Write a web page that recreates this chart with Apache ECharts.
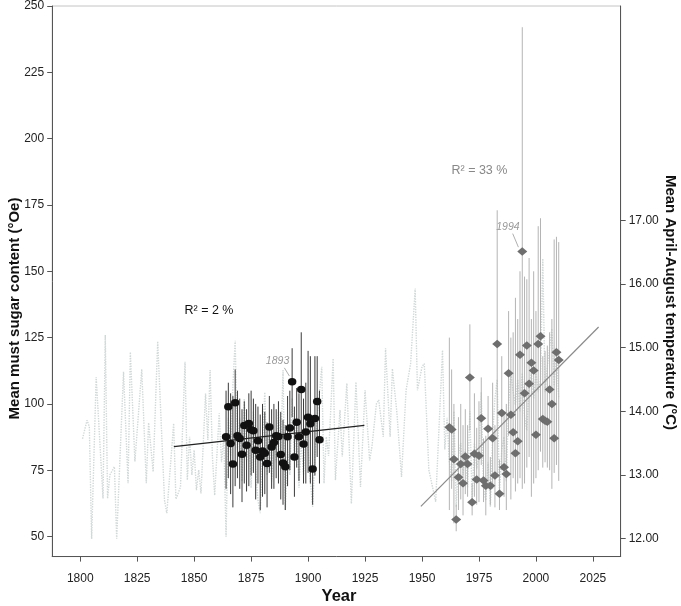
<!DOCTYPE html>
<html>
<head>
<meta charset="utf-8">
<script src="https://cdn.jsdelivr.net/npm/echarts@6/dist/echarts.min.js"></script>
<style>
html,body{margin:0;padding:0;background:#fff;}
#chart{width:681px;height:606px;}
</style>
</head>
<body>
<div id="chart"></div>
<script>
// ---- Data ----
// Historical must sugar (°Oe): mean, low, high
const histYears = [1864,1865,1866,1867,1868,1869,1870,1871,1872,1873,1874,1875,1876,1877,1878,1879,1880,1881,1882,1883,1884,1885,1886,1887,1888,1889,1890,1891,1892,1893,1894,1895,1896,1897,1898,1899,1900,1901,1902,1903,1904,1905];
const histMean = [87.6,98.9,85.1,77.4,100.4,88.0,87.0,81.0,91.9,84.4,92.6,90.3,89.9,82.5,86.1,80.0,82.3,81.4,77.5,91.3,83.8,85.5,88.0,87.7,80.9,77.7,76.3,87.6,90.9,108.4,80.0,93.1,87.6,105.4,84.9,89.4,95.0,92.5,75.5,94.5,100.9,86.5];
const histLow  = [68,72,66,61,69,72,68,63,70,67,69,73,74,64,70,60,65,66,61,74,68,68,72,70,64,62,60,69,75,95,65,76,71,87,70,70,74,70,62,73,80,70];
const histHigh = [105,108,104,103,113,105,102,98,101,98,104,105,102,100,99,96,100,97,93,103,98,100,98,101,97,94,92,103,105,121,99,106,104,127,102,108,120,118,94,118,118,105];

// Modern must sugar (°Oe): mean, low, high
const modYears = [1962,1963,1964,1965,1966,1967,1968,1969,1970,1971,1972,1973,1974,1975,1976,1977,1978,1979,1980,1981,1982,1983,1984,1985,1986,1987,1988,1989,1990,1991,1992,1993,1994,1995,1996,1997,1998,1999,2000,2001,2002,2003,2004,2005,2006,2007,2008,2009,2010];
const modMean = [91.2,90.4,79.1,56.4,72.4,77.4,70.1,80.2,77.4,110.0,62.9,81.2,71.5,80.5,94.6,71.1,69.2,90.6,69.2,87.1,73.0,122.6,66.1,96.6,76.1,73.6,111.6,95.9,89.3,81.4,85.9,118.5,157.5,104.0,122.0,107.6,115.5,112.6,88.4,122.6,125.5,94.3,93.7,93.3,105.4,100.0,87.1,119.5,116.6];
const modLow  = [60,68,55,52,60,64,58,66,65,90,58,65,62,63,77,63,58,70,62,68,61,73,60,75,65,60,88,64,72,67,70,72,68,70,76,80,65,70,72,75,82,76,78,76,75,68,74,77,71];
const modHigh = [125,113,100,62,95,100,92,98,92,130,70,104,91,101,110,87,88,103,80,108,92,173,79,118,97,100,135,125,127,140,132,150,242,148,147,155,132,150,135,167,170,118,120,122,127,132,162,163,161];

// April-August temperature (°C), turning points of the annual series
const tempYears = [1801,1803,1804,1805,1807,1810,1811,1812,1813,1815,1816,1819,1821,1822,1824,1827,1829,1830,1832,1834,1837,1838,1841,1842,1844,1846,1847,1848,1849,1850,1851,1852,1853,1855,1856,1857,1858,1859,1861,1862,1863,1864,1865,1866,1867,1868,1869,1870,1871,1872,1873,1874,1875,1876,1877,1878,1879,1880,1881,1882,1883,1884,1885,1886,1887,1888,1889,1890,1891,1892,1893,1894,1895,1896,1897,1898,1899,1900,1901,1902,1903,1904,1906,1907,1908,1909,1911,1912,1914,1915,1917,1919,1921,1923,1925,1927,1928,1930,1931,1933,1934,1936,1937,1939,1941,1943,1945,1947,1948,1950,1951,1953,1956,1959,1960,1961,1962,1963,1964,1965,1966,1967,1968,1969,1970,1971,1972,1973,1974,1975,1976,1977,1978,1979,1980,1981,1982,1983,1984,1985,1986,1987,1988,1989,1990,1991,1992,1993,1994,1995,1996,1997,1998,1999,2000,2001,2002,2003,2004,2005,2006,2007,2008,2009,2010];
const tempVals  = [13.57,13.86,13.76,12.00,14.54,12.63,15.20,12.63,13.00,13.13,12.00,14.62,12.87,14.93,13.21,14.66,12.87,13.82,13.05,15.10,12.60,12.40,13.81,12.62,12.81,14.78,12.92,13.60,13.00,13.39,12.76,13.08,12.71,14.28,13.55,14.65,13.30,12.68,13.97,13.20,13.60,12.03,13.90,13.30,14.40,15.11,13.40,13.90,12.90,14.20,13.20,13.70,12.80,14.00,13.10,12.60,12.40,13.50,14.30,13.00,13.80,12.90,13.60,13.20,14.00,13.30,14.65,12.45,13.40,13.00,14.20,13.30,13.90,12.80,13.50,13.00,13.80,13.40,12.90,12.50,13.30,13.90,14.70,12.87,13.60,13.30,14.83,12.92,14.02,13.29,14.44,12.55,14.46,12.81,14.33,13.23,13.44,14.12,14.18,13.60,14.99,13.60,14.67,13.97,12.97,14.33,14.75,15.93,14.33,14.70,14.75,13.08,12.58,14.96,13.40,13.90,13.20,12.90,14.00,12.50,13.30,13.50,13.00,13.40,12.80,14.00,12.60,13.50,13.10,13.30,14.30,12.80,12.60,13.20,12.50,13.60,14.20,14.50,12.70,13.40,13.60,12.90,14.10,14.60,14.30,14.10,14.50,14.00,14.60,13.90,13.70,14.40,14.60,14.20,14.60,14.30,14.50,16.40,14.30,14.70,15.00,15.30,14.40,15.00,14.20];

// Fitted trend lines (°Oe)
const histTrendX = [1841.1, 1924.7];
const histTrendY = [83.9, 91.9];
const modTrendX  = [1949.5, 2027.5];
const modTrendY  = [61.4, 129.0];

// Tick labels
const yearTicks = [1800,1825,1850,1875,1900,1925,1950,1975,2000,2025];
const sugarTicks = [50,75,100,125,150,175,200,225,250];
const tempTicks = [12,13,14,15,16,17];

// Annotations
const r2Texts = [
  {text:'R² = 2 %', x:1856.5, y:135.2, color:'#111'},
  {text:'R² = 33 %', x:1975.2, y:188.0, color:'#888'}
];
const yearNotes = [
  {text:'1893', x:1886.6, y:116.0, lx1:1889.6, ly1:113.6, lx2:1891.8, ly2:110.5},
  {text:'1994', x:1987.7, y:166.6, lx1:1989.8, ly1:164.2, lx2:1992.3, ly2:159.1}
];

// ---- Chart ----
const FONT = 'Arial, "Liberation Sans", Helvetica, sans-serif';
const chart = echarts.init(document.getElementById('chart'), null, {renderer:'canvas'});

function errBar(color){
  return function(params, api){
    const x = api.value(0);
    const p1 = api.coord([x, api.value(1)]);
    const p2 = api.coord([x, api.value(2)]);
    return {type:'line', shape:{x1:p1[0], y1:p1[1], x2:p2[0], y2:p2[1]}, style:{stroke:color, lineWidth:1}};
  };
}

const option = {
  animation:false,
  backgroundColor:'#fff',
  grid:{left:52.2, right:60.3, top:5.4, bottom:49.4, show:true, borderColor:'#c4c4c4', borderWidth:1, backgroundColor:'transparent'},
  xAxis:{
    type:'value', min:1787.7, max:2037.2,
    axisLine:{show:true, lineStyle:{color:'#555', width:1}},
    axisTick:{show:true, length:5, lineStyle:{color:'#555'}, customValues:yearTicks},
    axisLabel:{color:'#222', fontSize:12, fontFamily:FONT, margin:16, customValues:yearTicks, formatter:v=>String(v)},
    splitLine:{show:false}
  },
  yAxis:[
    {
      type:'value', min:42.45, max:250, position:'left',
      axisLine:{show:true, lineStyle:{color:'#555', width:1}},
      axisTick:{show:true, length:5, lineStyle:{color:'#555'}, customValues:sugarTicks},
      axisLabel:{color:'#222', fontSize:12, fontFamily:FONT, margin:8, customValues:sugarTicks, formatter:v=>String(v)},
      splitLine:{show:false}
    },
    {
      type:'value', min:11.718, max:20.368, position:'right',
      axisLine:{show:true, lineStyle:{color:'#555', width:1}},
      axisTick:{show:true, length:5, lineStyle:{color:'#555'}, customValues:tempTicks},
      axisLabel:{color:'#222', fontSize:12, fontFamily:FONT, margin:8, customValues:tempTicks, formatter:v=>v.toFixed(2)},
      splitLine:{show:false}
    }
  ],
  series:[
    {
      name:'Temperature', type:'line', yAxisIndex:1, symbol:'none', z:1,
      data: tempYears.map((y,i)=>[y, tempVals[i]]),
      lineStyle:{color:'#d2d7d7', width:1.4, type:[1.4,1.2]}
    },
    {
      name:'Historical range', type:'custom', z:2, renderItem:errBar('#3a3a3a'),
      data: histYears.map((y,i)=>[y, histLow[i], histHigh[i]])
    },
    {
      name:'Modern range', type:'custom', z:2, renderItem:errBar('#b4b4b4'),
      data: modYears.map((y,i)=>[y, modLow[i], modHigh[i]])
    },
    {
      name:'Historical trend', type:'line', symbol:'none', z:3,
      data: histTrendX.map((x,i)=>[x, histTrendY[i]]),
      lineStyle:{color:'#222', width:1.2}
    },
    {
      name:'Modern trend', type:'line', symbol:'none', z:3,
      data: modTrendX.map((x,i)=>[x, modTrendY[i]]),
      lineStyle:{color:'#8a8a8a', width:1.2}
    },
    {
      name:'Historical must sugar', type:'scatter', symbol:'circle', symbolSize:[8.5,7.5], z:4,
      data: histYears.map((y,i)=>[y, histMean[i]]),
      itemStyle:{color:'#111', opacity:1}
    },
    {
      name:'Modern must sugar', type:'scatter', symbol:'diamond', symbolSize:[10,8.5], z:4,
      data: modYears.map((y,i)=>[y, modMean[i]]),
      itemStyle:{color:'#6e6e6e', opacity:1}
    }
  ]
};
chart.setOption(option);

function px(x, y){ return chart.convertToPixel({xAxisIndex:0, yAxisIndex:0}, [x, y]); }
const g = [];
r2Texts.forEach(t=>{
  const p = px(t.x, t.y);
  g.push({type:'text', x:p[0], y:p[1], z:10, style:{text:t.text, fill:t.color, font:'12.5px '+FONT, textAlign:'center', textVerticalAlign:'middle'}});
});
yearNotes.forEach(t=>{
  const p = px(t.x, t.y);
  g.push({type:'text', x:p[0], y:p[1], z:10, style:{text:t.text, fill:'#9a9a9a', font:'italic 10.5px '+FONT, textAlign:'center', textVerticalAlign:'middle'}});
  const a = px(t.lx1, t.ly1), b = px(t.lx2, t.ly2);
  g.push({type:'line', z:10, shape:{x1:a[0], y1:a[1], x2:b[0], y2:b[1]}, style:{stroke:'#9a9a9a', lineWidth:0.8}});
});
// Axis titles
g.push({type:'text', x:14.5, y:308.5, rotation:Math.PI/2, z:10, style:{text:'Mean must sugar content (°Oe)', fill:'#111', font:'bold 15px '+FONT, textAlign:'center', textVerticalAlign:'middle'}});
g.push({type:'text', x:670.5, y:302.5, rotation:-Math.PI/2, z:10, style:{text:'Mean April-August temperature (°C)', fill:'#111', font:'bold 15px '+FONT, textAlign:'center', textVerticalAlign:'middle'}});
g.push({type:'text', x:339, y:596.5, z:10, style:{text:'Year', fill:'#111', font:'bold 16.5px '+FONT, textAlign:'center', textVerticalAlign:'middle'}});
chart.setOption({graphic:g});
</script>
</body>
</html>
